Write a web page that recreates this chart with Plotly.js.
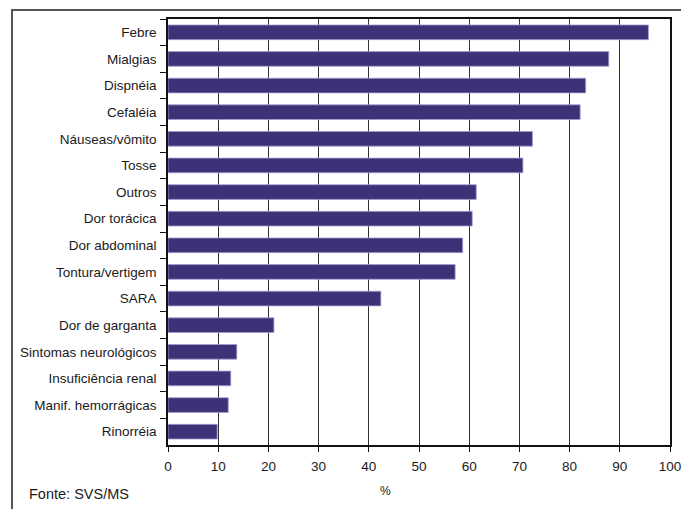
<!DOCTYPE html>
<html>
<head>
<meta charset="utf-8">
<script src="https://cdn.plot.ly/plotly-3.0.1.min.js"></script>
<style>
  html, body { margin: 0; padding: 0; background: #fff; }
  #wrap { position: relative; width: 681px; height: 509px; overflow: hidden; }
  #chart { position: absolute; left: 0; top: 0; width: 681px; height: 509px; }
  #frame { position: absolute; left: 11px; top: 9px; width: 700px; height: 520px;
           border-left: 2px solid #555; border-top: 2px solid #555; pointer-events: none; }
</style>
</head>
<body>
<div id="wrap">
  <div id="chart"></div>
  <div id="frame"></div>
</div>
<script>
const categories = [
  "Febre", "Mialgias", "Dispnéia", "Cefaléia", "Náuseas/vômito", "Tosse", "Outros",
  "Dor torácica", "Dor abdominal", "Tontura/vertigem", "SARA", "Dor de garganta",
  "Sintomas neurológicos", "Insuficiência renal", "Manif. hemorrágicas", "Rinorréia"
];
const values = [95.7, 87.8, 83.2, 82.1, 72.6, 70.7, 61.4, 60.6, 58.7, 57.2, 42.4, 21.1, 13.7, 12.5, 12.0, 9.8];
const xTicks = [0, 10, 20, 30, 40, 50, 60, 70, 80, 90, 100];
const xTitle = "%";
const source = "Fonte: SVS/MS";

const font = "'Liberation Sans Narrow', 'Arial Narrow', 'Liberation Sans', Arial, sans-serif";

const plotTop = 19, plotBottom = 445, plotLeft = 168, plotRight = 670;
const pw = plotRight - plotLeft, ph = plotBottom - plotTop;

const trace = {
  type: "bar",
  orientation: "h",
  y: categories,
  x: values,
  marker: { color: "#3b3278", line: { color: "#a49cd0", width: 0.8 } },
  hoverinfo: "x+y"
};

const layout = {
  width: 681, height: 509,
  margin: { l: plotLeft, r: 681 - plotRight, t: plotTop, b: 509 - plotBottom },
  paper_bgcolor: "#fff", plot_bgcolor: "#fff",
  bargap: 0.45,
  showlegend: false,
  font: { family: font, size: 13.5, color: "#1a1a1a" },
  xaxis: {
    range: [0, 100],
    tickvals: xTicks,
    ticktext: xTicks.map(String),
    ticklabeloverflow: "allow",
    showgrid: true, gridcolor: "#333", gridwidth: 1.3,
    showline: true, linecolor: "#111", linewidth: 1.5, mirror: true,
    ticks: "outside", ticklen: 5, tickcolor: "#111", tickwidth: 1.3,
    zeroline: false,
    ticklabelstandoff: 3,
    tickfont: { family: font, size: 13.5, color: "#1a1a1a" },
    fixedrange: true
  },
  yaxis: {
    type: "category",
    autorange: "reversed",
    tickson: "boundaries",
    ticks: "outside", ticklen: 6, tickcolor: "#111", tickwidth: 1.3,
    showline: true, linecolor: "#111", linewidth: 1.5, mirror: true,
    showgrid: false,
    ticklabelstandoff: 7,
    tickfont: { family: font, size: 13.5, color: "#1a1a1a" },
    fixedrange: true
  },
  annotations: [
    { text: xTitle, xref: "paper", yref: "paper",
      x: (385 - plotLeft) / pw, y: (plotBottom - 491) / ph,
      xanchor: "center", yanchor: "middle", showarrow: false,
      font: { family: font, size: 12, color: "#1a1a1a" } },
    { text: source, xref: "paper", yref: "paper",
      x: (27 - plotLeft) / pw, y: (plotBottom - 494) / ph,
      xanchor: "left", yanchor: "middle", showarrow: false,
      font: { family: font, size: 14.5, color: "#1a1a1a" } }
  ]
};

Plotly.newPlot("chart", [trace], layout, { displayModeBar: false });
</script>
</body>
</html>
